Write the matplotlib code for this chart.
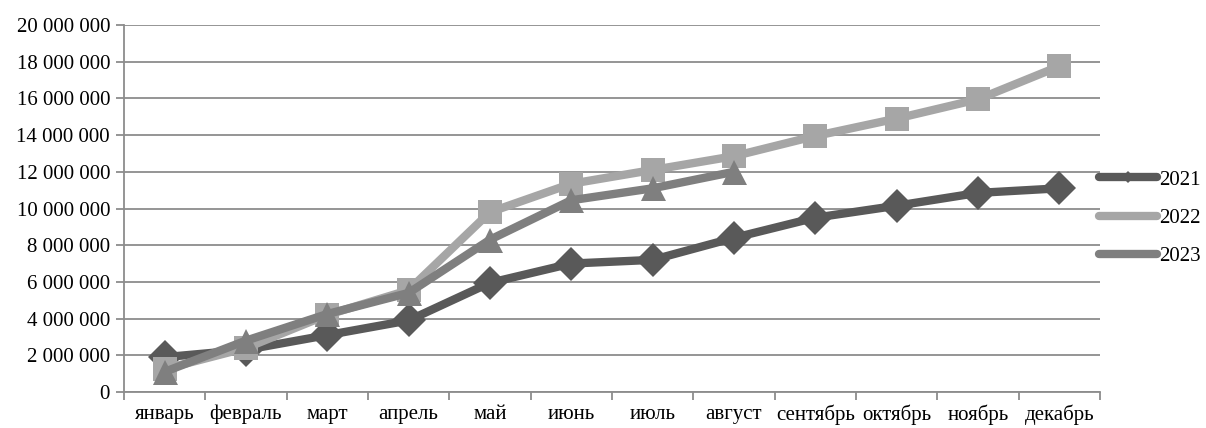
import matplotlib
matplotlib.use("Agg")
import matplotlib.pyplot as plt
import numpy as np
from matplotlib.ticker import FuncFormatter, FixedLocator

months = ["январь", "февраль", "март", "апрель", "май", "июнь",
          "июль", "август", "сентябрь", "октябрь", "ноябрь", "декабрь"]
s2021 = [1900000, 2300000, 3100000, 3900000, 5950000, 7000000,
         7200000, 8400000, 9500000, 10150000, 10850000, 11100000]
s2022 = [1250000, 2400000, 4200000, 5550000, 9800000, 11350000,
         12100000, 12850000, 13950000, 14900000, 15950000, 17750000]
s2023 = [1100000, 2800000, 4250000, 5400000, 8300000, 10450000,
         11100000, 12000000]
series = [("2021", s2021, "#595959", "D", 17),
          ("2022", s2022, "#A6A6A6", "s", 17),
          ("2023", s2023, "#7F7F7F", "^", 18)]

plt.rcParams["font.family"] = ["Liberation Serif", "DejaVu Serif"]

fig = plt.figure(figsize=(12.06, 4.28), dpi=100)
ax = fig.add_axes([0.1028, 0.0841, 0.8092, 0.8575])

x = np.arange(len(months))
for name, vals, color, marker, ms in series:
    ax.plot(x[:len(vals)], vals, color=color, lw=6, marker=marker,
            markersize=ms, markeredgewidth=0, label=name, zorder=3,
            solid_capstyle="round", solid_joinstyle="round")

ax.set_xlim(-0.5, len(months) - 0.5)
ax.set_ylim(0, 20000000)
ax.set_yticks(np.arange(0, 20000001, 2000000))
ax.yaxis.set_major_formatter(FuncFormatter(lambda v, p: f"{int(v):,}".replace(",", " ")))
ax.grid(axis="y", color="#8C8C8C", lw=1.3, zorder=0)
ax.set_axisbelow(True)

ax.set_xticks(x)
ax.set_xticklabels(months)
ax.xaxis.set_minor_locator(FixedLocator(np.arange(-0.5, len(months), 1.0)))
ax.tick_params(axis="x", which="major", length=0, pad=9, labelsize=15)
ax.tick_params(axis="x", which="minor", length=6, width=1.3, color="#8C8C8C")
ax.tick_params(axis="y", length=6, width=1.3, color="#8C8C8C", labelsize=15, pad=4)

for side in ("top", "right"):
    ax.spines[side].set_visible(False)
for side in ("left", "bottom"):
    ax.spines[side].set_color("#8C8C8C")
    ax.spines[side].set_linewidth(1.3)

leg = ax.legend(loc="center left", bbox_to_anchor=(0.9995, 0.474), frameon=False,
                fontsize=15, handlelength=2.75, handletextpad=0.1,
                labelspacing=0.9, markerscale=0.35, borderaxespad=0,
                borderpad=0)

fig.savefig("out.png", dpi=100)
